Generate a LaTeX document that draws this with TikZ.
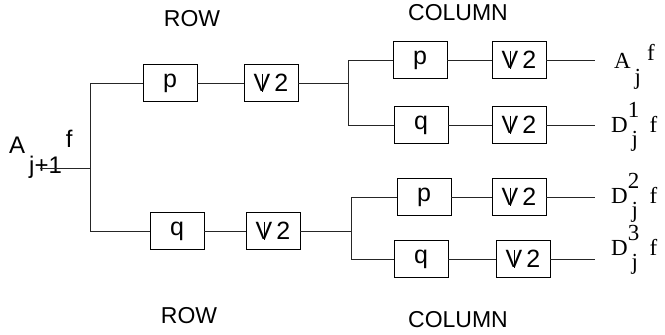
\documentclass[tikz,border=0pt]{standalone}
\usepackage{fontspec}
\setmainfont{Liberation Serif}
\setsansfont{Liberation Sans}

% downsampling symbol
\newcommand\dnsamp{\ooalign{\hfil V\hfil\cr\hfil\vrule height 0.72em width 0.6pt\hfil}\,2}
\newcommand\detail[2]{D\rlap{\raisebox{15pt}{#1}}\raisebox{-14pt}{\,#2}\enspace f}

\tikzset{
  filt/.style={draw, line width=0.8pt, minimum width=54pt, minimum height=37pt,
    inner sep=0pt, font=\sffamily\fontsize{25}{25}\selectfont},
  title/.style={font=\sffamily\fontsize{23}{23}\selectfont},
  outlbl/.style={anchor=base west, inner sep=0pt, font=\fontsize{23}{23}\selectfont},
  wire/.style={line width=0.8pt, black!85}
}

\begin{document}
\begin{tikzpicture}[x=1pt,y=-1pt]

\useasboundingbox (0,0) rectangle (665,335);

\node [title] (rowtop) at (192,19) {ROW};
\node [title] (coltop) at (458,13) {COLUMN};
\node [title] (rowbot) at (189,316) {ROW};
\node [title] (colbot) at (458,320) {COLUMN};

% input
\node [anchor=base west, inner sep=0pt, font=\sffamily\fontsize{24}{24}\selectfont]
  (ain) at (9,153) {A\,\raisebox{-20pt}{j+1}\,\raisebox{6pt}{f}};
\coordinate (in) at (40,168);
\coordinate (s1) at (90,168);
\coordinate (s1t) at (90,83);
\coordinate (s1b) at (90,231);

% row filters
\node [filt] (p1) at (170,83) {p};
\node [filt] (d1) at (271,83) {\dnsamp};
\node [filt] (q1) at (177,231) {q};
\node [filt] (d2) at (273,231) {\dnsamp};

% column filters, upper
\coordinate (s2) at (348,83);
\coordinate (s2t) at (348,60);
\coordinate (s2b) at (348,125);
\node [filt] (p2) at (420,60) {p};
\node [filt] (d3) at (519,60) {\dnsamp};
\node [filt] (q2) at (421,125) {q};
\node [filt] (d4) at (519,125) {\dnsamp};

% column filters, lower
\coordinate (s3) at (351,231);
\coordinate (s3t) at (351,197);
\coordinate (s3b) at (351,259);
\node [filt] (p3) at (424,197) {p};
\node [filt] (d5) at (519,197) {\dnsamp};
\node [filt] (q3) at (421,259) {q};
\node [filt] (d6) at (523,259) {\dnsamp};

% outputs
\coordinate (e1) at (595,60);
\coordinate (e2) at (595,125);
\coordinate (e3) at (595,197);
\coordinate (e4) at (595,259);
\node [outlbl] (aout) at (614,68) {A\,\raisebox{-16pt}{j}\hspace{6pt}\raisebox{8pt}{f}};
\node [outlbl] (dout1) at (611,132) {\detail{1}{j}};
\node [outlbl] (dout2) at (611,203) {\detail{2}{j}};
\node [outlbl] (dout3) at (611,255) {\detail{3}{j}};

% wires
\draw [wire] (in) -- (s1);
\draw [wire] (s1t) -- (s1b);
\draw [wire] (s1t) -- (p1);
\draw [wire] (s1b) -- (q1);
\draw [wire] (p1) -- (d1);
\draw [wire] (q1) -- (d2);
\draw [wire] (d1) -- (s2);
\draw [wire] (d2) -- (s3);

\draw [wire] (s2t) -- (s2b);
\draw [wire] (s2t) -- (p2);
\draw [wire] (s2b) -- (q2);
\draw [wire] (p2) -- (d3);
\draw [wire] (q2) -- (d4);
\draw [wire] (d3) -- (e1);
\draw [wire] (d4) -- (e2);

\draw [wire] (s3t) -- (s3b);
\draw [wire] (s3t) -- (p3);
\draw [wire] (s3b) -- (q3);
\draw [wire] (p3) -- (d5);
\draw [wire] (q3) -- (d6);
\draw [wire] (d5) -- (e3);
\draw [wire] (d6) -- (e4);

\end{tikzpicture}
\end{document}
